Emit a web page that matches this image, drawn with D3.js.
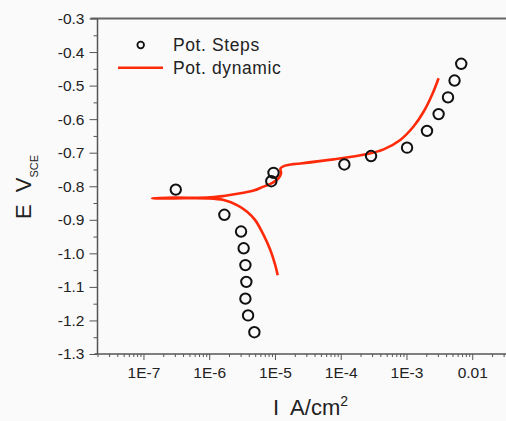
<!DOCTYPE html>
<html>
<head>
<meta charset="utf-8">
<script src="https://cdn.jsdelivr.net/npm/d3@7"></script>
<style>
  html, body { margin: 0; padding: 0; background: #fafafa; }
  svg { display: block; }
  text { font-family: "Liberation Sans", Arial, sans-serif; fill: #222; white-space: pre; }
</style>
</head>
<body>
<svg id="chart" width="506" height="421"></svg>
<script>
// Potentiostatic steps: current density (A/cm^2) and potential (V vs SCE)
const stepsI = [3.1e-7, 8.8e-6, 9.5e-6, 1.7e-6, 3.05e-6, 3.34e-6, 3.55e-6, 3.67e-6, 3.55e-6, 3.9e-6, 4.86e-6,
                1.135e-4, 2.89e-4, 1.02e-3, 2.05e-3, 3.08e-3, 4.28e-3, 5.38e-3, 6.8e-3];
const stepsE = [-0.81, -0.785, -0.76, -0.885, -0.935, -0.985, -1.035, -1.085, -1.135, -1.185, -1.235,
                -0.735, -0.71, -0.685, -0.635, -0.585, -0.535, -0.485, -0.435];

// Potentiodynamic sweep, cathodic end -> corrosion potential -> anodic end
const dynI = [1.10e-5, 1.01e-5, 8.5e-6, 6.7e-6, 5.0e-6, 3.77e-6, 2.65e-6, 1.66e-6, 9.3e-7, 2.9e-7, 1.35e-7,
              2.9e-7, 9.3e-7, 1.66e-6, 2.98e-6, 4.74e-6, 6.7e-6, 9.0e-6, 1.14e-5, 1.24e-5, 1.21e-5, 1.36e-5,
              1.92e-5, 2.43e-5, 7.8e-5, 2.51e-4, 4.49e-4, 8.05e-4, 1.28e-3, 1.82e-3, 2.44e-3, 3.08e-3];
const dynE = [-1.065, -1.035, -0.990, -0.945, -0.901, -0.876, -0.856, -0.841, -0.836, -0.836, -0.836,
              -0.834, -0.834, -0.829, -0.821, -0.813, -0.801, -0.791, -0.776, -0.761, -0.747, -0.740,
              -0.734, -0.732, -0.720, -0.704, -0.690, -0.662, -0.622, -0.578, -0.528, -0.478];

const xTickValues = [1e-7, 1e-6, 1e-5, 1e-4, 1e-3, 1e-2];
const xTickLabels = ["1E-7", "1E-6", "1E-5", "1E-4", "1E-3", "0.01"];
const yTickValues = [-0.3, -0.4, -0.5, -0.6, -0.7, -0.8, -0.9, -1.0, -1.1, -1.2, -1.3];
const yTickLabels = ["-0.3", "-0.4", "-0.5", "-0.6", "-0.7", "-0.8", "-0.9", "-1.0", "-1.1", "-1.2", "-1.3"];

const svg = d3.select("#chart");
const plotLeft = 97.5, plotTop = 18.5, plotBottom = 354, plotRight = 538;

const x = d3.scaleLog().domain([2e-8, 0.1]).range([plotLeft, plotRight]);
const y = d3.scaleLinear().domain([-1.3, -0.3]).range([plotBottom, plotTop]);

const axisColor = "#555";

// minor ticks on x: 2..9 of each decade
const xMinor = [];
for (let e = -8; e <= -2; e++) {
  for (let m = 2; m <= 9; m++) {
    const v = m * Math.pow(10, e);
    if (v >= 2e-8 && v <= 0.1) xMinor.push(v);
  }
}
const yMinor = d3.range(0, 10).map(i => -0.35 - i * 0.1);

// top frame line
svg.append("line")
  .attr("x1", plotLeft - 7).attr("x2", 506).attr("y1", plotTop).attr("y2", plotTop)
  .attr("stroke", "#666").attr("stroke-width", 2);

// x axis
const gx = svg.append("g").attr("transform", `translate(0,${plotBottom})`);
gx.call(d3.axisBottom(x).tickValues(xMinor).tickSize(3).tickFormat(""))
  .call(g => g.select(".domain").remove());
gx.append("g").call(d3.axisBottom(x).tickValues(xTickValues).tickSize(6).tickPadding(7)
    .tickFormat((d, i) => xTickLabels[i]))
  .call(g => g.select(".domain").remove());
gx.append("line").attr("x1", plotLeft - 3).attr("x2", 506).attr("y1", 0).attr("y2", 0)
  .attr("stroke", axisColor).attr("stroke-width", 1.5);

// y axis
const gy = svg.append("g").attr("transform", `translate(${plotLeft},0)`);
gy.call(d3.axisLeft(y).tickValues(yMinor).tickSize(4).tickFormat(""))
  .call(g => g.select(".domain").remove());
gy.append("g").call(d3.axisLeft(y).tickValues(yTickValues).tickSize(8).tickPadding(5)
    .tickFormat((d, i) => yTickLabels[i]))
  .call(g => g.select(".domain").remove());
gy.append("line").attr("x1", 0).attr("x2", 0).attr("y1", plotTop).attr("y2", plotBottom)
  .attr("stroke", axisColor).attr("stroke-width", 1.5);

svg.selectAll(".tick line").attr("stroke", axisColor).attr("stroke-width", 1);
svg.selectAll(".tick text").attr("font-size", 15.5)
  .attr("font-family", "Liberation Sans, Arial, sans-serif").attr("fill", "#222");

// potentiodynamic curve
const dynData = dynI.map((v, i) => [v, dynE[i]]);
svg.append("path")
  .datum(dynData)
  .attr("fill", "none")
  .attr("stroke", "#ff2a0a")
  .attr("stroke-width", 2.6)
  .attr("stroke-linejoin", "round")
  .attr("d", d3.line().x(d => x(d[0])).y(d => y(d[1])).curve(d3.curveCatmullRom.alpha(0.5)));

// potentiostatic points
svg.append("g").selectAll("circle")
  .data(stepsI.map((v, i) => [v, stepsE[i]]))
  .join("circle")
  .attr("cx", d => x(d[0])).attr("cy", d => y(d[1]))
  .attr("r", 5.2)
  .attr("fill", "none").attr("stroke", "#111").attr("stroke-width", 2);

// legend
const lg = svg.append("g");
lg.append("circle").attr("cx", 140.7).attr("cy", 45).attr("r", 3.3)
  .attr("fill", "none").attr("stroke", "#111").attr("stroke-width", 1.8);
lg.append("text").attr("x", 173).attr("y", 50.5).attr("font-size", 17.5)
  .attr("letter-spacing", 0.6).text("Pot. Steps");
lg.append("line").attr("x1", 118).attr("x2", 163).attr("y1", 67.7).attr("y2", 67.7)
  .attr("stroke", "#ff2a0a").attr("stroke-width", 2.6);
lg.append("text").attr("x", 173).attr("y", 73.5).attr("font-size", 17.5)
  .attr("letter-spacing", 0.6).text("Pot. dynamic");

// axis titles
const xt = svg.append("text").attr("x", 273).attr("y", 415).attr("font-size", 22);
xt.append("tspan").text("I  A/cm");
xt.append("tspan").attr("font-size", 14).attr("dy", -9).text("2");

const yt = svg.append("text").attr("transform", "translate(31,187) rotate(-90)")
  .attr("text-anchor", "middle").attr("font-size", 22);
yt.append("tspan").text("E  V");
yt.append("tspan").attr("font-size", 11).attr("dy", 7).text("SCE");
</script>
</body>
</html>
